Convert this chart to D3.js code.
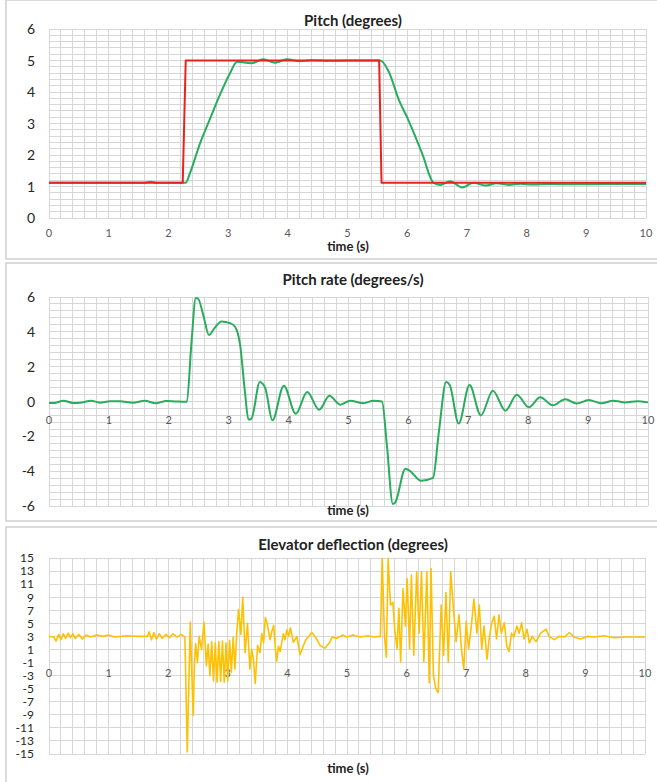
<!DOCTYPE html>
<html>
<head>
<meta charset="utf-8">
<script src="https://cdn.jsdelivr.net/npm/d3@7"></script>
<style>
  body { margin: 0; background: #fff; }
  svg { display: block; font-family: Lato, "Open Sans", sans-serif; }
</style>
</head>
<body>
<script>
// time axis, shared by all three panels
const timeTicks = [0, 1, 2, 3, 4, 5, 6, 7, 8, 9, 10];

// pitch command (red) and response (green), [t, degrees]
const pitchCommand = [[0, 1.12], [2.24, 1.12], [2.29, 5], [5.53, 5], [5.57, 1.12], [10, 1.12]];
const pitchResponse = [
  [0, 1.12], [1.6, 1.12], [1.7, 1.15], [1.8, 1.12], [2.29, 1.12], [2.36, 1.42], [2.53, 2.37],
  [2.7, 3.16], [2.86, 3.9], [3.03, 4.59], [3.15, 4.96], [3.39, 4.91], [3.59, 5.04],
  [3.79, 4.93], [3.98, 5.04], [4.2, 4.98], [4.4, 5.01], [4.7, 4.99], [5.0, 5.0], [5.55, 5.0],
  [5.69, 4.65], [5.86, 3.75], [6.02, 3.11], [6.25, 2.05], [6.44, 1.12], [6.55, 1.05],
  [6.72, 1.17], [6.92, 0.97], [7.11, 1.12], [7.31, 1.03], [7.5, 1.1], [7.7, 1.05],
  [7.9, 1.09], [8.1, 1.06], [8.4, 1.08], [8.8, 1.07], [9.3, 1.08], [10, 1.08]
];
const pitchTicks = [0, 1, 2, 3, 4, 5, 6];

// pitch rate, [t, degrees/s]
const pitchRate = [
  [0, -0.09], [0.1, -0.08], [0.24, 0.05], [0.4, -0.08], [0.52, -0.07], [0.7, 0.05],
  [0.85, -0.07], [1.02, 0.02], [1.19, 0.01], [1.4, -0.07], [1.6, 0.05], [1.78, -0.1],
  [1.96, 0.03], [2.12, 0.0], [2.27, -0.02], [2.3, 0.0], [2.38, 3.45], [2.45, 5.94],
  [2.49, 5.9], [2.58, 4.89], [2.67, 3.82], [2.76, 4.2], [2.88, 4.6], [3.02, 4.5],
  [3.1, 4.32], [3.19, 3.26], [3.27, 0.58], [3.33, -1.04], [3.38, -0.98], [3.52, 1.12],
  [3.61, 0.77], [3.73, -1.08], [3.92, 0.91], [4.12, -0.7], [4.31, 0.55], [4.51, -0.47],
  [4.68, 0.33], [4.86, -0.18], [5.03, 0.05], [5.25, -0.1], [5.42, 0.05], [5.56, 0.0],
  [5.64, -2.48], [5.74, -5.88], [5.78, -5.8], [5.95, -3.86], [6.03, -4.0], [6.21, -4.55],
  [6.41, -4.39], [6.51, -1.71], [6.63, 1.12], [6.69, 0.95], [6.84, -1.27], [7.02, 0.95],
  [7.21, -0.8], [7.41, 0.62], [7.62, -0.53], [7.81, 0.39], [8.01, -0.33], [8.2, 0.24],
  [8.41, -0.22], [8.62, 0.13], [8.81, -0.12], [9.01, 0.08], [9.22, -0.1], [9.42, 0.05],
  [9.62, -0.06], [9.82, 0.02], [10, -0.05]
];
const rateTicks = [-6, -4, -2, 0, 2, 4, 6];

// elevator deflection, [t, degrees]
const elevator = [
  [0, 3.0], [0.08, 2.9], [0.12, 2.3], [0.16, 3.3], [0.2, 2.5], [0.24, 3.4], [0.28, 2.7],
  [0.32, 3.5], [0.36, 2.8], [0.4, 3.4], [0.44, 2.7], [0.5, 3.3], [0.56, 2.6], [0.62, 3.2],
  [0.7, 2.9], [0.8, 3.2], [0.9, 3.0], [1.0, 3.2], [1.1, 2.9], [1.3, 3.1], [1.5, 3.0],
  [1.65, 3.0], [1.68, 3.7], [1.72, 2.5], [1.76, 3.6], [1.8, 2.6], [1.85, 3.4], [1.9, 2.7],
  [1.96, 3.3], [2.02, 2.8], [2.08, 3.4], [2.15, 2.9], [2.22, 3.3], [2.28, 2.9],
  [2.32, -14.7], [2.37, 5.2], [2.39, -0.9], [2.42, -9.1], [2.44, -0.9], [2.46, 1.9],
  [2.49, -1.0], [2.52, 3.0], [2.56, 1.0], [2.6, 5.2], [2.64, -1.5], [2.67, 1.8],
  [2.7, -3.0], [2.73, 2.2], [2.76, -3.8], [2.79, 2.0], [2.82, -4.0], [2.85, 2.2],
  [2.88, -3.9], [2.91, 2.3], [2.94, -4.0], [2.97, 2.0], [3.0, -3.8], [3.03, 2.4],
  [3.06, -2.5], [3.09, 2.9], [3.12, -2.0], [3.15, 3.5], [3.18, 7.1], [3.22, 3.3],
  [3.25, 9.0], [3.29, 0.5], [3.33, 5.0], [3.37, -2.0], [3.4, 1.0], [3.43, -0.5],
  [3.46, -4.2], [3.5, 1.6], [3.54, 0.5], [3.57, 3.4], [3.6, 2.0], [3.63, 5.9],
  [3.66, 5.0], [3.71, 2.5], [3.74, 3.8], [3.77, 4.7], [3.8, 1.0], [3.82, -0.8],
  [3.85, 1.5], [3.88, 0.7], [3.93, 3.4], [3.96, 2.5], [3.99, 4.0], [4.02, 3.0],
  [4.05, 4.3], [4.1, 2.1], [4.16, 3.0], [4.21, 0.2], [4.27, 1.6], [4.31, 2.5],
  [4.35, 2.9], [4.41, 3.6], [4.47, 2.9], [4.55, 1.6], [4.63, 1.2], [4.71, 2.1],
  [4.75, 2.9], [4.83, 2.7], [4.92, 3.2], [5.0, 2.9], [5.1, 3.2], [5.22, 2.9],
  [5.35, 3.1], [5.45, 2.9], [5.56, 3.0], [5.59, 14.9], [5.63, 2.9], [5.66, -0.2],
  [5.69, 14.9], [5.73, 7.8], [5.77, 8.2], [5.8, 4.1], [5.84, 1.1], [5.87, 7.3],
  [5.9, -0.9], [5.94, 10.3], [5.98, 4.6], [6.01, 11.8], [6.05, 1.1], [6.08, 12.4],
  [6.12, 0.1], [6.17, 12.9], [6.21, 3.5], [6.25, 12.9], [6.29, -0.9], [6.34, 12.9],
  [6.38, -4.1], [6.41, 13.4], [6.45, -3.0], [6.49, -5.0], [6.53, -5.6], [6.58, 7.8],
  [6.62, 0.1], [6.66, 9.7], [6.7, -1.0], [6.74, 12.9], [6.79, 6.8], [6.83, 2.2],
  [6.88, 6.3], [6.92, 1.1], [6.96, -2.0], [7.0, 5.3], [7.04, 1.1], [7.08, 4.1],
  [7.13, 8.7], [7.18, 3.5], [7.22, 7.8], [7.26, 1.1], [7.3, 4.6], [7.35, -0.5],
  [7.39, 3.0], [7.43, 5.1], [7.47, 6.1], [7.51, 2.6], [7.55, 6.3], [7.59, 3.5],
  [7.64, 5.1], [7.68, 1.5], [7.72, 0.7], [7.76, 3.5], [7.8, 2.9], [7.85, 4.6],
  [7.89, 3.5], [7.93, 5.1], [7.97, 2.6], [8.02, 4.1], [8.06, 2.0], [8.11, 3.0],
  [8.17, 2.2], [8.25, 3.5], [8.34, 4.1], [8.39, 3.0], [8.48, 2.5], [8.56, 3.0],
  [8.65, 2.9], [8.73, 3.6], [8.81, 2.9], [8.92, 2.6], [9.03, 3.0], [9.15, 2.9],
  [9.31, 3.1], [9.48, 2.8], [9.7, 2.9], [10, 2.9]
];
const elevTicks = [-15, -13, -11, -9, -7, -5, -3, -1, 1, 3, 5, 7, 9, 11, 13, 15];

const W = 657, H = 782;
const svg = d3.select('body').append('svg').attr('width', W).attr('height', H);

// panel frames
[[0, 259], [263, 521], [527, 790]].forEach(([y0, y1]) => {
  svg.append('rect')
    .attr('x', 6).attr('y', y0).attr('width', 670).attr('height', y1 - y0)
    .attr('fill', '#fff').attr('stroke', '#d0d0d0').attr('stroke-width', 1.5);
});

const panel = opts => {
  const x = d3.scaleLinear().domain([0, 10]).range([opts.left, opts.right]);
  const y = d3.scaleLinear().domain(opts.yDomain).range([opts.bottom, opts.top]);
  const g = svg.append('g');

  // grid
  d3.range(0, 10.001, 0.2).forEach(t => {
    g.append('line')
      .attr('x1', x(t)).attr('x2', x(t)).attr('y1', opts.top).attr('y2', opts.bottom)
      .attr('stroke', '#d6d6d6').attr('stroke-width', 1).attr('shape-rendering', 'crispEdges');
  });
  d3.range(opts.yDomain[0], opts.yDomain[1] + 0.001, opts.yStep).forEach(v => {
    g.append('line')
      .attr('x1', opts.left).attr('x2', opts.right).attr('y1', y(v)).attr('y2', y(v))
      .attr('stroke', '#d6d6d6').attr('stroke-width', 1).attr('shape-rendering', 'crispEdges');
  });

  // y tick labels
  g.selectAll('.yt').data(opts.yTicks).join('text')
    .attr('x', opts.yLabelX).attr('y', d => y(d))
    .attr('dy', '0.36em')
    .attr('text-anchor', 'end')
    .attr('font-size', opts.yFont)
    .attr('fill', '#262626')
    .text(d => d);

  // x tick labels
  g.selectAll('.xt').data(timeTicks).join('text')
    .attr('x', d => x(d)).attr('y', opts.xLabelY)
    .attr('text-anchor', 'middle')
    .attr('font-size', 11)
    .attr('fill', '#595959')
    .text(d => d);

  // title and axis title
  g.append('text')
    .attr('x', 353).attr('y', opts.titleY)
    .attr('text-anchor', 'middle').attr('font-size', 15).attr('font-weight', 'bold')
    .attr('fill', '#222').text(opts.title);
  g.append('text')
    .attr('x', 348).attr('y', opts.timeY)
    .attr('text-anchor', 'middle').attr('font-size', 13).attr('font-weight', 'bold')
    .attr('fill', '#222').text('time (s)');

  opts.series.forEach(s => {
    const line = d3.line().x(d => x(d[0])).y(d => y(d[1])).curve(s.curve);
    g.append('path').datum(s.data)
      .attr('d', line)
      .attr('fill', 'none')
      .attr('stroke', s.color)
      .attr('stroke-width', s.width)
      .attr('stroke-linejoin', 'round');
  });
};

panel({
  left: 49, right: 646, top: 29, bottom: 218,
  yDomain: [0, 6], yStep: 0.2, yTicks: pitchTicks, yFont: 14, yLabelX: 35,
  xLabelY: 237, titleY: 26, timeY: 251,
  title: 'Pitch (degrees)',
  series: [
    { data: pitchResponse, color: '#27ad5c', width: 2, curve: d3.curveMonotoneX },
    { data: pitchCommand, color: '#e8231f', width: 2, curve: d3.curveLinear }
  ]
});

panel({
  left: 49, right: 648, top: 297, bottom: 506,
  yDomain: [-6, 6], yStep: 0.4, yTicks: rateTicks, yFont: 14, yLabelX: 35,
  xLabelY: 424, titleY: 285, timeY: 515,
  title: 'Pitch rate (degrees/s)',
  series: [
    { data: pitchRate, color: '#27ad5c', width: 2, curve: d3.curveMonotoneX }
  ]
});

panel({
  left: 49, right: 645, top: 558, bottom: 754,
  yDomain: [-15, 15], yStep: 2, yTicks: elevTicks, yFont: 12, yLabelX: 34,
  xLabelY: 677, titleY: 550, timeY: 773,
  title: 'Elevator deflection (degrees)',
  series: [
    { data: elevator, color: '#ffc000', width: 1.6, curve: d3.curveLinear }
  ]
});
</script>
</body>
</html>
